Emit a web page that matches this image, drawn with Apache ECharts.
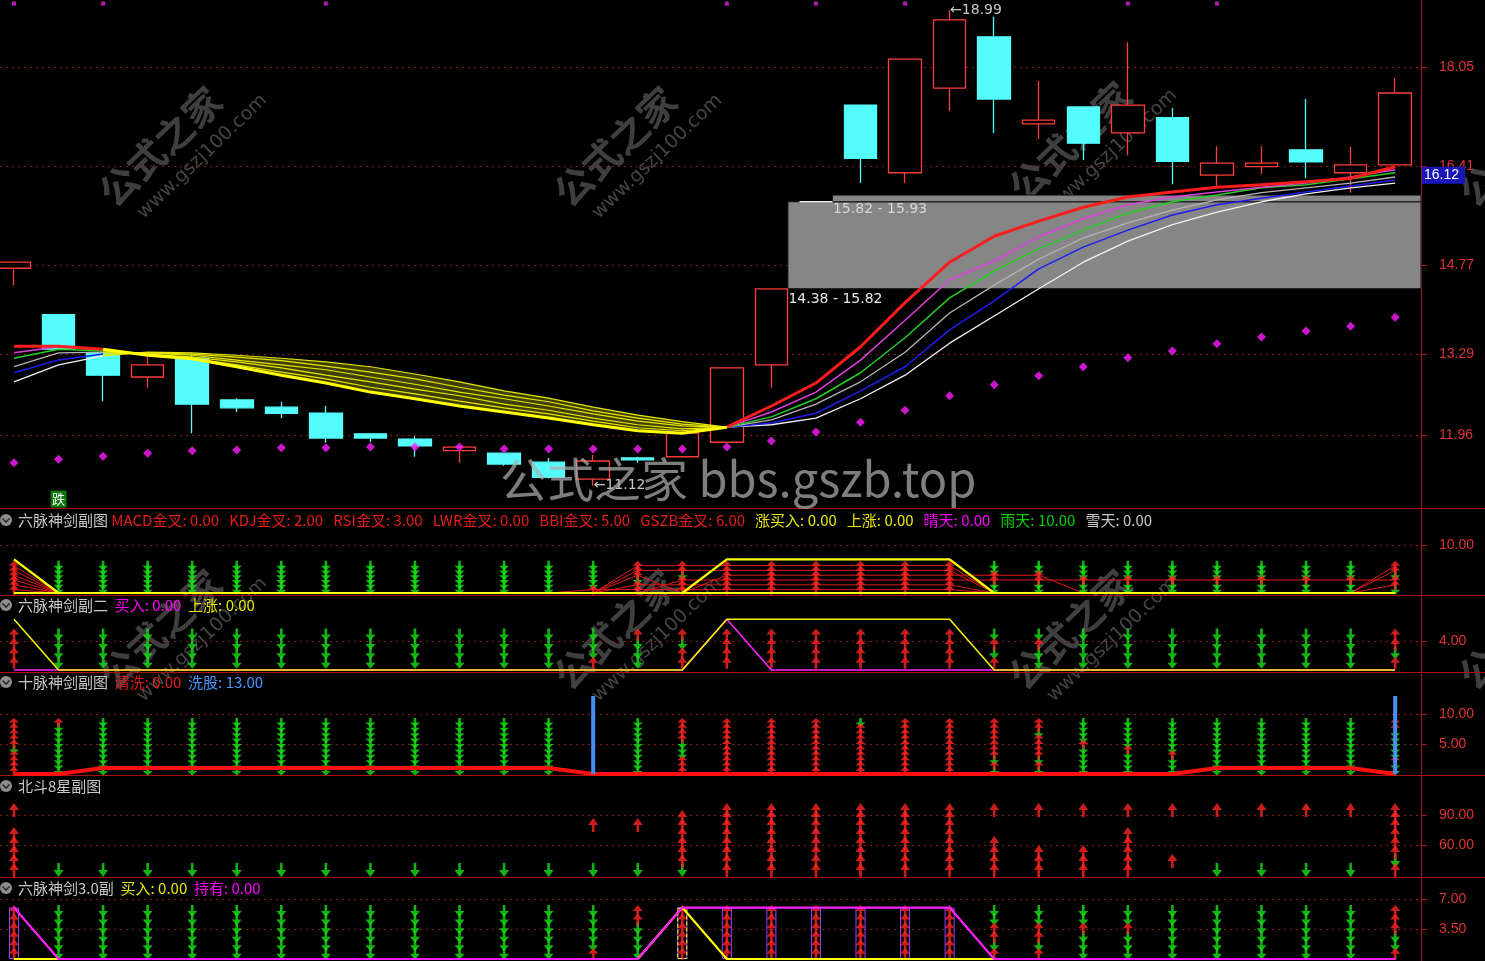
<!DOCTYPE html>
<html><head><meta charset="utf-8">
<script src="https://cdn.jsdelivr.net/npm/echarts@6/dist/echarts.min.js"></script>
<style>html,body{margin:0;padding:0;background:#000;overflow:hidden}#c{width:1485px;height:961px}</style>
</head><body><div id="c"></div>
<script>
// ---------------- DATA ----------------
const candleOpen  = [14.72,13.95,13.32,12.92,13.23,12.54,12.42,12.32,11.98,11.89,11.70,11.66,11.51,11.23,11.58,11.60,11.84,13.12,15.82,17.42,16.30,17.70,18.55,17.11,17.39,16.96,17.21,16.26,16.40,16.68,16.30,16.43];
const candleClose = [14.82,13.38,12.95,13.12,12.47,12.41,12.32,11.91,11.91,11.78,11.76,11.48,11.26,11.53,11.55,11.99,13.07,14.38,15.82,16.54,18.18,18.83,17.52,17.17,16.79,17.42,16.49,16.46,16.46,16.48,16.43,17.62];
const candleLow   = [14.44,13.38,12.52,12.74,11.99,12.34,12.24,11.83,11.84,11.60,11.50,11.45,11.24,11.12,11.50,11.60,11.84,12.74,15.82,16.13,16.13,17.32,16.96,16.86,16.51,16.59,16.11,16.06,16.28,16.21,15.97,16.43];
const candleHigh  = [14.82,13.95,13.32,13.32,13.30,12.57,12.51,12.44,11.98,11.94,11.78,11.66,11.58,11.63,11.60,12.05,13.07,14.38,15.82,17.42,18.18,18.99,18.88,17.82,17.39,18.46,17.37,16.74,16.74,17.52,16.73,17.87];
const sarDots     = [11.50,11.56,11.61,11.66,11.70,11.71,11.75,11.75,11.76,11.76,11.76,11.73,11.73,11.73,11.73,11.73,11.76,11.86,12.01,12.17,12.37,12.61,12.79,12.94,13.09,13.24,13.35,13.47,13.58,13.68,13.76,13.91];
const maRed     = [13.43,13.43,13.38,13.28,13.22,13.09,12.95,12.82,12.67,12.56,12.44,12.34,12.24,12.13,12.03,11.99,12.09,12.44,12.82,13.42,14.15,14.82,15.25,15.50,15.73,15.90,15.98,16.06,16.10,16.15,16.21,16.40];
const maMagenta = [13.32,13.42,13.37,13.30,13.23,13.12,13.00,12.89,12.75,12.64,12.52,12.41,12.31,12.19,12.08,12.03,12.09,12.34,12.67,13.20,13.86,14.53,14.84,15.24,15.54,15.77,15.90,15.98,16.06,16.13,16.23,16.35];
const maGreen   = [13.23,13.38,13.35,13.30,13.25,13.17,13.07,12.95,12.84,12.72,12.61,12.47,12.37,12.24,12.13,12.06,12.09,12.26,12.56,12.99,13.57,14.23,14.67,15.04,15.35,15.63,15.82,15.93,16.05,16.10,16.20,16.30];
const maGray    = [13.09,13.32,13.33,13.32,13.28,13.20,13.12,13.04,12.92,12.80,12.67,12.56,12.44,12.31,12.19,12.11,12.09,12.21,12.47,12.84,13.33,13.98,14.44,14.87,15.22,15.47,15.68,15.85,15.97,16.05,16.13,16.23];
const maBlue    = [12.99,13.20,13.30,13.32,13.30,13.25,13.19,13.10,13.00,12.89,12.75,12.62,12.51,12.36,12.24,12.14,12.09,12.16,12.32,12.69,13.09,13.70,14.18,14.71,15.07,15.35,15.60,15.77,15.88,15.98,16.08,16.18];
const maWhite   = [12.84,13.12,13.27,13.33,13.32,13.28,13.23,13.17,13.09,12.97,12.84,12.69,12.57,12.42,12.29,12.18,12.09,12.13,12.24,12.56,12.95,13.48,13.93,14.38,14.82,15.17,15.44,15.65,15.82,15.95,16.05,16.13];
const bearRange = [2, 16];                 // bars where the MA ribbon is drawn yellow
const gapZones  = [[17, 14.38, 15.82], [18, 15.82, 15.93]]; // [start bar, low, high]
const topDotBars = [0, 2, 7, 16, 18, 20, 25, 27];
const lastPriceLabel = 16.12;
const mainTicks = [11.96, 13.29, 14.77, 16.41, 18.05];

// sub panel 2: 六脉神剑副图 (levels bottom->top: MACD KDJ RSI LWR BBI GSZB)
const p2Levels = [0.7, 1.7, 2.7, 3.7, 4.7, 5.7];
const p2Cols = ['RRRRRR','GGGGGG','GGGGGG','GGGGGG','GGGGGG','GGGGGG','GGGGGG','GGGGGG','GGGGGG','GGGGGG','GGGGGG','GGGGGG','GGGGGG',
  'RGGGGG','RRGRRR','RRRGRR','RRRRRR','RRRRRR','RRRRRR','RRRRRR','RRRRRR','RRRRRR','GGRRGG','GGRRGG','GGRGGG','GGRGGG','GGRGGG','GGRGGG','GGRGGG','GGRGGG','GGRGGG','GRRGRR'];
const p2Buy  = [7,0,0,0,0,0,0,0,0,0,0,0,0,0,0,0,7,7,7,7,7,7,0,0,0,0,0,0,0,0,0,0];
const p2Rise = [0,0,0,0,0,0,0,0,0,0,0,0,0,0,0,0,0,0,0,0,0,0,0,0,0,0,0,0,0,0,0,0];
const p2Ticks = [10];
// sub panel 3: 六脉神剑副二
const p3Levels = [1.0, 2.3, 3.6, 4.9];
const p3Cols = ['RRRR','GGGG','GGGG','GGGG','GGGG','GGGG','GGGG','GGGG','GGGG','GGGG','GGGG','GGGG','GGGG',
  'RGGG','GGGR','RRGR','RRRR','RRRR','RRRR','RRRR','RRRR','RRRR','RGRG','GGRG','GGGG','GGGG','GGGG','GGGG','GGGG','GGGG','GGGG','RGRR'];
const p3Rise = [7,0,0,0,0,0,0,0,0,0,0,0,0,0,0,0,7,7,7,7,7,7,0,0,0,0,0,0,0,0,0,0];
const p3Buy  = [0,0,0,0,0,0,0,0,0,0,0,0,0,0,0,0,7,0,0,0,0,0,0,0,0,0,0,0,0,0,0,0];
const p3Ticks = [4];
// sub panel 4: 十脉神剑副图
const p4Levels = [0.5, 1.4, 2.3, 3.2, 4.1, 5.0, 5.9, 6.8, 7.7, 8.6];
const p4Cols = ['RRRRGRRRRR','GGGGGGGGGR','GGGGGGGGGG','GGGGGGGGGG','GGGGGGGGGG','GGGGGGGGGG','GGGGGGGGGG','GGGGGGGGGG','GGGGGGGGGG','GGGGGGGGGG','GGGGGGGGGG','GGGGGGGGGG','GGGGGGGGGG',
  '..........','GGGGGGGGGG','RRRGGGRRRR','RRRRRRRRRR','RRRRRRRRRR','RRRRRRRRRR','RRRRRRRRRG','RRRRRRRRRR','RRRRRRRRRR','GRGRRRRRRR','GRGRRRRGRR','GGGGGRGGGG','GGGGRGGGGG','GGGRGGGGGG','GGGGGGGGGG','GGGGGGGGGG','GGGGGGGGGG','GGGGGGGGGG','GGRGGGGGRR'];
const p4Clean = [0,0,1,1,1,1,1,1,1,1,1,1,1,0,0,0,0,0,0,0,0,0,0,0,0,0,0,1,1,1,1,0];
const p4Wash  = [0,0,0,0,0,0,0,0,0,0,0,0,0,13,0,0,0,0,0,0,0,0,0,0,0,0,0,0,0,0,0,13];
const p4Ticks = [5, 10];
// sub panel 5: 北斗8星副图
const p5Levels = [35, 44, 53, 62, 71, 80, 88, 95];
const p5Cols = ['RRRRR..R','G.......','G.......','G.......','G.......','G.......','G.......','G.......','G.......','G.......','G.......','G.......','G.......',
  'G....R..','G....R..','GRRRRRR.','RRRRRRRR','RRRRRRRR','RRRRRRRR','RRRRRRRR','RRRRRRRR','RRRRRRRR','RRRR...R','RRR....R','RRR....R','RRRRR..R','.R.....R','G......R','G......R','G......R','G......R','RGRRRRRR'];
const p5Ticks = [60, 90];
// sub panel 6: 六脉神剑3.0副
const p6Levels = [0.6, 1.6, 2.6, 3.6, 4.6, 5.6];
const p6Cols = ['RRRRRR','GGGGGG','GGGGGG','GGGGGG','GGGGGG','GGGGGG','GGGGGG','GGGGGG','GGGGGG','GGGGGG','GGGGGG','GGGGGG','GGGGGG',
  'RGGGGG','GGGGRR','RRRRRR','RRRRRR','RRRRRR','RRRRRR','RRRRRR','RRRRRR','RRRRRR','RGRRGG','RGRRGG','GGGRGG','GGGRGG','GGGGGG','GGGGGG','GGGGGG','GGGGGG','GGGGGG','RGGRRR'];
const p6Buy  = [0,0,0,0,0,0,0,0,0,0,0,0,0,0,0,6,0,0,0,0,0,0,0,0,0,0,0,0,0,0,0,0];
const p6Hold = [6,0,0,0,0,0,0,0,0,0,0,0,0,0,0,6,6,6,6,6,6,6,0,0,0,0,0,0,0,0,0,0];
const p6Ticks = [3.5, 7];

// ---------------- LAYOUT ----------------
const X_MIN = -0.314, X_MAX = 31.58;
const PLOT_W = 1421, CANDLE_W = 33;
const HALF_BAR = (CANDLE_W / 2) / (PLOT_W / (X_MAX - X_MIN)); // half a candle body in bar units
const FONT = '"Noto Sans CJK SC", "Noto Sans", sans-serif';
const NUMFONT = '"Liberation Sans Narrow", "Liberation Sans", sans-serif';
const grids = [
  {top:0, height:508}, {top:510, height:85}, {top:596, height:76},
  {top:673, height:102}, {top:776, height:101}, {top:878, height:83}
];
const yRanges = [[10.752, 19.159], [-0.417, 17.29], [-0.276, 10.21], [-0.167, 16.83], [28, 129], [-0.233, 9.45]];
const tickSets = [mainTicks, p2Ticks, p3Ticks, p4Ticks, p5Ticks, p6Ticks];

const RED = '#ff2424', GREEN = '#18e018', YEL = '#ffff00', MAG = '#ff22ff';
const UP = 'path://M0,6L5,0L10,6L6.3,6L6.3,12L3.7,12L3.7,6Z';

function gridLineMark(ticks) {
  return {silent:true, symbol:'none', animation:false, z:0,
    data: ticks.map(v => ({yAxis:v, lineStyle:{color:'#8c1616', type:[2,4], width:1}, label:{show:false}}))};
}
function lineS(g, data, color, width, z, extra) {
  return Object.assign({type:'line', xAxisIndex:g, yAxisIndex:g, data:data.map((v,i)=>[i,v]), symbol:'none',
    lineStyle:{color, width}, z:z||4, silent:true, animation:false}, extra||{});
}
function arrowSeries(g, cols, levels, size) {
  const red = [], green = [];
  cols.forEach((s,i) => { for (let k=0;k<s.length;k++){ if (s[k]==='R') red.push([i,levels[k]]); else if (s[k]==='G') green.push([i,levels[k]]); } });
  return [
    {type:'scatter', xAxisIndex:g, yAxisIndex:g, data:green, symbol:UP, symbolRotate:180, symbolSize:size, itemStyle:{color:GREEN}, z:3, silent:true, animation:false},
    {type:'scatter', xAxisIndex:g, yAxisIndex:g, data:red, symbol:UP, symbolSize:size, itemStyle:{color:RED}, z:3, silent:true, animation:false}
  ];
}

const series = [];
// ---- main candles ----
const candleData = candleOpen.map((o,i) => {
  const v = [i, o, candleClose[i], candleLow[i], candleHigh[i]];
  if (o === candleClose[i] && candleLow[i] === candleHigh[i]) return {value:v, itemStyle:{borderColor:'#e8e8e8', borderColor0:'#e8e8e8'}};
  return v;
});
const tinyLabel = (coord, text, color) => ({coord, symbol:'rect', symbolSize:1, itemStyle:{color:'rgba(0,0,0,0)'},
  label:{show:true, position:'right', distance:0, formatter:text, color, fontSize:14, fontFamily:'"DejaVu Sans", sans-serif'}});
series.push({
  type:'candlestick', xAxisIndex:0, yAxisIndex:0, data:candleData, barWidth:CANDLE_W, z:2, silent:true, animation:false,
  itemStyle:{color:'#000', color0:'#54fcfc', borderColor:'#ff3c3c', borderColor0:'#54fcfc', borderWidth:1.3},
  markArea:{silent:true, z:1, data: gapZones.map(gz => [
    {coord:[gz[0]+HALF_BAR, gz[2]], itemStyle:{color:'#868686', borderColor:'#101010', borderWidth:1}}, {coord:[X_MAX, gz[1]]}])},
  markLine: gridLineMark(mainTicks),
  markPoint:{silent:true, animation:false, data:[
    tinyLabel([21, candleHigh[21]], '←' + candleHigh[21].toFixed(2), '#c8c8c8'),
    tinyLabel([13, candleLow[13]], '←' + candleLow[13].toFixed(2), '#c8c8c8'),
    tinyLabel([gapZones[1][0]+HALF_BAR, gapZones[1][1]-0.12], gapZones[1][1].toFixed(2)+' - '+gapZones[1][2].toFixed(2), '#d8d8d8'),
    tinyLabel([gapZones[0][0]+HALF_BAR, gapZones[0][1]-0.18], gapZones[0][1].toFixed(2)+' - '+gapZones[0][2].toFixed(2), '#e8e8e8'),
    {coord:[1, 10.90], symbol:'rect', symbolSize:[16,17], itemStyle:{color:'#0a780a'},
      label:{show:true, position:'inside', formatter:'跌', color:'#fff', fontSize:13, fontFamily:FONT}}
  ]}
});
// ---- MA ribbon ----
const maSet = [
  [maWhite, '#f2f2f2', 1.3], [maBlue, '#1c1cf0', 1.5], [maGray, '#b4b4b4', 1.3],
  [maGreen, '#22d022', 1.5], [maMagenta, '#e040e0', 1.5], [maRed, '#ff1c1c', 3]
];
const inBear = i => i >= bearRange[0] && i <= bearRange[1];
// hatched band between slowest and fastest line in the bearish stretch
series.push({type:'custom', xAxisIndex:0, yAxisIndex:0, z:2, silent:true, animation:false,
  data:[[bearRange[0], maRed[bearRange[0]]]],
  renderItem:(params, api) => {
    const pts = [];
    for (let i = bearRange[0]; i <= bearRange[1]; i++) pts.push(api.coord([i, maWhite[i]]));
    for (let i = bearRange[1]; i >= bearRange[0]; i--) pts.push(api.coord([i, maRed[i]]));
    return {type:'polygon', shape:{points:pts}, style:{fill:'rgba(125,125,0,0.5)'}};
  }});
maSet.forEach(([arr, col, w]) => {
  series.push(lineS(0, arr.map((v,i)=> (i<=bearRange[0] || i>=bearRange[1]) ? v : '-'), col, w, 4));
});
maSet.forEach(([arr, col, w]) => {
  series.push(lineS(0, arr.map((v,i)=> inBear(i) ? v : '-'), w > 2 ? '#ffff00' : '#e6e600', w > 2 ? 3 : 1.2, 4));
});
series.push({type:'scatter', xAxisIndex:0, yAxisIndex:0, data:sarDots.map((v,i)=>[i,v]), symbol:'diamond', symbolSize:9,
  itemStyle:{color:'#ff1cff'}, z:5, silent:true, animation:false});
series.push({type:'scatter', xAxisIndex:0, yAxisIndex:0, data:topDotBars.map(i=>[i, 19.10]), symbol:'rect', symbolSize:4,
  itemStyle:{color:'#e020e0'}, z:5, silent:true, animation:false});

// ---- panel 2 ----
series.push(...arrowSeries(1, p2Cols, p2Levels, [10,10]));
for (let k = 0; k < 6; k++) {
  series.push(lineS(1, p2Cols.map(s => s[k]==='R' ? p2Levels[k] : 0), '#e01818', 1, 3));
}
series.push(lineS(1, p2Rise, YEL, 2, 5, {markLine: gridLineMark(p2Ticks)}));
series.push(lineS(1, p2Buy, YEL, 2.2, 6));
// ---- panel 3 ----
series.push(...arrowSeries(2, p3Cols, p3Levels, [10,12]));
series.push(lineS(2, p3Buy, MAG, 1.6, 5, {markLine: gridLineMark(p3Ticks)}));
series.push(lineS(2, p3Rise, '#f0f000', 1.6, 6));
// ---- panel 4 ----
series.push(...arrowSeries(3, p4Cols, p4Levels, [10,9]));
series.push(lineS(3, p4Clean, '#ff1010', 4, 5, {markLine: gridLineMark(p4Ticks)}));
series.push({type:'bar', xAxisIndex:3, yAxisIndex:3, data:p4Wash.map((v,i)=>[i, v>0?v:'-']), barWidth:4,
  itemStyle:{color:'#4a8ef0'}, z:6, silent:true, animation:false});
// ---- panel 5 ----
const p5Arrows = arrowSeries(4, p5Cols, p5Levels, [10,14]);
p5Arrows[1].markLine = gridLineMark(p5Ticks);
series.push(...p5Arrows);
// ---- panel 6 ----
series.push(...arrowSeries(5, p6Cols, p6Levels, [10,12]));
series.push({type:'bar', xAxisIndex:5, yAxisIndex:5, data:p6Hold.map((v,i)=>[i, v>0?v:'-']), barWidth:10, barGap:'-100%',
  itemStyle:{color:'rgba(0,0,0,0)', borderColor:'#9a3cff', borderWidth:1}, z:4, silent:true, animation:false});
series.push({type:'bar', xAxisIndex:5, yAxisIndex:5, data:p6Buy.map((v,i)=>[i, v>0?v:'-']), barWidth:10, barGap:'-100%',
  itemStyle:{color:'rgba(0,0,0,0)', borderColor:'#ffff00', borderWidth:1, borderType:'dashed'}, z:4, silent:true, animation:false});
series.push(lineS(5, p6Buy, YEL, 2.2, 5, {markLine: gridLineMark(p6Ticks)}));
series.push(lineS(5, p6Hold, MAG, 2.2, 6));

// ---------------- AXES ----------------
const xAxis = grids.map((g,i) => ({type:'value', gridIndex:i, min:X_MIN, max:X_MAX, show:false}));
const yAxis = grids.map((g,i) => ({type:'value', gridIndex:i, position:'right', min:yRanges[i][0], max:yRanges[i][1],
  splitLine:{show:false},
  axisLine:{show:true, onZero:false, lineStyle:{color:'#b01414', width:1}},
  axisTick:{show:true, length:6, customValues:tickSets[i], lineStyle:{color:'#b01414'}},
  axisLabel:{show:true, customValues:tickSets[i], formatter:v=>Number(v).toFixed(2), color:'#dc3434', fontSize:14, margin:18, fontFamily:NUMFONT}
}));
// last price tag on the main price axis
yAxis.push({type:'value', gridIndex:0, position:'right', min:yRanges[0][0], max:yRanges[0][1], z:5,
  splitLine:{show:false}, axisLine:{show:false}, axisTick:{show:false},
  axisLabel:{show:true, customValues:[lastPriceLabel], formatter:v=>Number(v).toFixed(2), margin:1, verticalAlign:'bottom',
    color:'#fff', backgroundColor:'#1818b8', padding:[2,6,1,2], fontSize:14, fontFamily:NUMFONT}});

// ---------------- GRAPHIC ----------------
const graphic = [];
[508.5, 595.5, 672.5, 775.5, 877.5].forEach(y => graphic.push({type:'line', silent:true, z:1,
  shape:{x1:0, y1:y, x2:1485, y2:y}, style:{stroke:'#a81010', lineWidth:1}}));
function header(y, parts) {
  const rich = {}; let text = '';
  parts.forEach((p,j) => { rich['s'+j] = {fill:p[1], fontSize:15, fontFamily:FONT}; text += '{s'+j+'|'+p[0]+'}'; });
  graphic.push({type:'circle', silent:true, z:50, shape:{cx:6, cy:y, r:6}, style:{fill:'#8e8e8e'}});
  graphic.push({type:'polyline', silent:true, z:51, shape:{points:[[2.5,y-1.5],[6,y+2],[9.5,y-1.5]]}, style:{stroke:'#2a2a2a', lineWidth:1.6, fill:null}});
  graphic.push({type:'text', silent:true, z:50, x:18, y, style:{text, rich, verticalAlign:'middle', fill:'#c8c8c8', font:'15px '+FONT}});
}
header(520, [['六脉神剑副图 ', '#c8c8c8'],
  ['MACD金叉: 0.00   KDJ金叉: 2.00   RSI金叉: 3.00   LWR金叉: 0.00   BBI金叉: 5.00   GSZB金叉: 6.00   ', '#e41c1c'],
  ['涨买入: 0.00   上涨: 0.00   ', '#e8e800'], ['晴天: 0.00   ', '#ff00ff'], ['雨天: 10.00   ', '#00d000'], ['雪天: 0.00', '#c8c8c8']]);
header(605, [['六脉神剑副二  ', '#c8c8c8'], ['买入: 0.00  ', '#ff00ff'], ['上涨: 0.00', '#e8e800']]);
header(682, [['十脉神剑副图  ', '#c8c8c8'], ['清洗: 0.00  ', '#e41c1c'], ['洗股: 13.00', '#4f95ff']]);
header(786, [['北斗8星副图', '#c8c8c8']]);
header(888, [['六脉神剑3.0副  ', '#c8c8c8'], ['买入: 0.00  ', '#e8e800'], ['持有: 0.00', '#ff00ff']]);

function watermark(x, y) {
  graphic.push({type:'group', x, y, rotation:0.76, z:60, silent:true, children:[
    {type:'text', x:0, y:0, style:{text:'公式之家', fill:'rgba(150,150,150,0.42)', font:'bold 38px '+FONT}},
    {type:'text', x:14, y:46, style:{text:'www.gszj100.com', fill:'rgba(150,150,150,0.45)', font:'19px "DejaVu Sans", sans-serif'}}
  ]});
}
[[92,185],[547,185],[1002,180],[92,668],[547,668],[1002,668],[1452,185],[1452,668]].forEach(p => watermark(p[0], p[1]));
graphic.push({type:'text', silent:true, z:61, x:500, y:479, style:{text:'公式之家 bbs.gszb.top', verticalAlign:'middle',
  fill:'rgba(175,175,175,0.72)', font:'47px '+FONT}});

const chart = echarts.init(document.getElementById('c'), null, {renderer:'canvas'});
chart.setOption({
  backgroundColor:'#000',
  animation:false,
  grid: grids.map(g => ({left:0, width:PLOT_W, top:g.top, height:g.height, show:false, containLabel:false, outerBoundsMode:'none'})),
  xAxis, yAxis, series, graphic
});
</script></body></html>
